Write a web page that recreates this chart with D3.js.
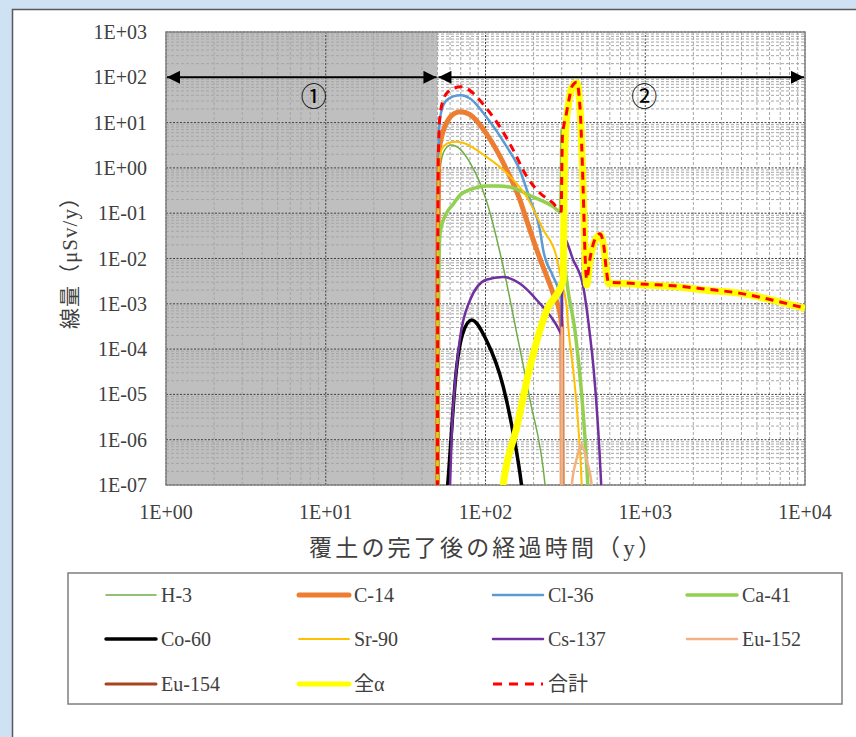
<!DOCTYPE html>
<html>
<head>
<meta charset="utf-8">
<script src="https://cdn.jsdelivr.net/npm/d3@7"></script>
<style>
  body { margin: 0; background: #cfe2f3; }
  svg { display: block; }
</style>
</head>
<body>
<svg id="chart"></svg>
<script>
// axis ticks
const yearTicks = [1, 10, 100, 1000, 10000];
const doseTicks = [1e-7, 1e-6, 1e-5, 1e-4, 1e-3, 1e-2, 1e-1, 1, 10, 100, 1000];
const coverEnd = 50;          // end of period ①
const periodArrowLevel = 100; // arrows drawn at 1E+02

// [years, μSv/y]
const h3 = [[50,1e-8],[50.3,0.01],[51,0.5],[53,1.5],[56,2.6],[61,3.2],[70,2.5],[80,1.3],[101,0.195],[129,0.0066],[157,2.2e-4],[190,7.6e-6],[236,1e-7],[250,1e-8]];
const c14 = [[50,1e-8],[50.3,0.01],[51,2],[54,6],[58,11],[64,16],[70,17.4],[80,15],[101,5.8],[136,0.9],[164,0.2],[181,0.07],[210,0.015],[265,0.0017],[293,6e-4],[300,3e-4],[303,1e-8]];
const cl36 = [[50,1e-8],[50.3,0.01],[51,4],[52,13],[56,29],[63,38],[70,40],[80,34],[101,13.5],[136,2.9],[164,0.9],[190,0.2],[219,0.043],[230,0.015],[265,0.004],[293,0.0015],[300,8e-4],[303,1e-8]];
const ca41 = [[50,1e-8],[50.3,1e-4],[51,0.005],[52,0.037],[57,0.1],[62,0.15],[70,0.26],[80,0.33],[101,0.4],[120,0.4],[149,0.36],[198,0.23],[265,0.14],[293,0.108],[298,0.5],[301,7],[303,0.5],[306,0.02],[324,0.0028],[363,2.6e-4],[400,1e-5],[437,1e-7],[450,1e-8]];
const co60 = [[55,1e-8],[58,1e-7],[66,4e-5],[72,2.2e-4],[82,4.4e-4],[101,1.6e-4],[129,1.5e-5],[149,1.4e-6],[168,1e-7],[180,1e-8]];
const sr90 = [[50,1e-8],[50.3,0.01],[51,1],[53,2.5],[57,3.4],[64,3.8],[72,3.6],[101,1.77],[136,0.76],[181,0.23],[230,0.043],[278,0.011],[300,0.003],[324,7e-4],[330,3e-4],[360,2e-5],[400,1e-7],[410,1e-8]];
const cs137 = [[57,1e-8],[60,1e-7],[61.5,1.4e-6],[64.4,1.7e-5],[69,1.6e-4],[80,1.2e-3],[101,3.4e-3],[129,3.9e-3],[164,2.8e-3],[210,1.2e-3],[293,2.4e-4],[300,2e-4],[303,0.01],[306,0.03],[354,0.0093],[409,0.0024],[451,2e-4],[474,4e-5],[530,1e-7],[545,1e-8]];
const eu152 = [[299,1e-8],[300,3e-4],[302,1e-8],[340,1e-8],[347,1e-7],[370,3.5e-7],[400,7.6e-7],[430,3.5e-7],[462,1e-7],[470,1e-8]];
const eu154 = [[299,1e-9],[300,5e-8],[302,1e-9]];
const alpha = [[120,1e-8],[129,1e-7],[157,1.9e-6],[190,4.1e-5],[242,7.3e-4],[307,3.4e-3],[309,0.05],[311,0.6],[314,3],[320,10],[330,25],[349,62],[372,76],[391,19],[409,0.28],[420,0.0093],[430,0.0026],[451,0.0093],[487,0.026],[521,0.033],[550,0.018],[573,0.0047],[588,0.0028],[730,0.0028],[1020,0.0026],[1500,0.0024],[2426,0.002],[3950,0.0017],[6300,0.0012],[10000,0.00079]];
const total = [[50,1e-8],[50.3,0.01],[50.8,3],[52,15],[55,35],[59,50],[64,58],[70,62],[76,57],[84,44],[101,21],[123,8.1],[149,2.5],[181,0.65],[219,0.28],[265,0.166],[298,0.11],[300,0.6],[303,5],[308,8],[316,12],[330,27],[349,64],[372,78],[391,20],[409,0.3],[420,0.012],[430,0.0035],[451,0.01],[487,0.028],[521,0.035],[550,0.019],[573,0.005],[588,0.003],[730,0.0029],[1020,0.0027],[1500,0.0025],[2426,0.0021],[3950,0.0017],[6300,0.0012],[10000,0.0008]];

const series = [
  { name: "H-3",    data: h3,    color: "#70ad47", width: 1.5 },
  { name: "C-14",   data: c14,   color: "#ed7d31", width: 5 },
  { name: "Cl-36",  data: cl36,  color: "#5b9bd5", width: 2.5 },
  { name: "Ca-41",  data: ca41,  color: "#92d050", width: 3.5 },
  { name: "Co-60",  data: co60,  color: "#000000", width: 3.5 },
  { name: "Sr-90",  data: sr90,  color: "#ffc000", width: 2 },
  { name: "Cs-137", data: cs137, color: "#7030a0", width: 2.5 },
  { name: "Eu-152", data: eu152, color: "#f4b183", width: 2.5 },
  { name: "Eu-154", data: eu154, color: "#a9431e", width: 3 },
  { name: "全α",    data: alpha, color: "#ffff00", width: 7 },
  { name: "合計",   data: total, color: "#ff0000", width: 3, dash: "8,6" }
];

const width = 856, height = 737;
const m = { left: 166, right: 51, top: 32, bottom: 252 };

const svg = d3.select("#chart")
    .attr("width", width)
    .attr("height", height);

const serif = "Liberation Serif, DejaVu Serif, Noto Sans CJK JP, serif";
const textColor = "#404040";

// white panel
svg.append("rect")
    .attr("x", 12.5).attr("y", 9.5)
    .attr("width", width).attr("height", height)
    .attr("fill", "#fff")
    .attr("stroke", "#595959").attr("stroke-width", 1.5);

const x = d3.scaleLog().domain([1, 10000]).range([m.left, width - m.right]);
const y = d3.scaleLog().domain([1e-7, 1e3]).range([height - m.bottom, m.top]);

const pw = x.range()[1] - x.range()[0];
const ph = y.range()[0] - y.range()[1];

// shaded period ①
svg.append("rect")
    .attr("x", x(1)).attr("y", y(1e3))
    .attr("width", x(coverEnd) - x(1)).attr("height", ph)
    .attr("fill", "#bfbfbf");

// grid
const minorX = [], minorY = [];
yearTicks.slice(0, -1).forEach(t => { for (let k = 2; k <= 9; k++) minorX.push(t * k); });
doseTicks.slice(0, -1).forEach(t => { for (let k = 2; k <= 9; k++) minorY.push(t * k); });

const grid = svg.append("g");
grid.selectAll(".mx").data(minorX).join("line")
    .attr("x1", d => x(d)).attr("x2", d => x(d))
    .attr("y1", y.range()[0]).attr("y2", y.range()[1])
    .attr("stroke", "#a6a6a6").attr("stroke-dasharray", "3,2");
grid.selectAll(".my").data(minorY).join("line")
    .attr("y1", d => y(d)).attr("y2", d => y(d))
    .attr("x1", x.range()[0]).attr("x2", x.range()[1])
    .attr("stroke", "#a6a6a6").attr("stroke-dasharray", "3,2");
grid.selectAll(".Mx").data(yearTicks).join("line")
    .attr("x1", d => x(d)).attr("x2", d => x(d))
    .attr("y1", y.range()[0]).attr("y2", y.range()[1])
    .attr("stroke", "#404040").attr("stroke-dasharray", "2,1.5");
grid.selectAll(".My").data(doseTicks).join("line")
    .attr("y1", d => y(d)).attr("y2", d => y(d))
    .attr("x1", x.range()[0]).attr("x2", x.range()[1])
    .attr("stroke", "#404040").attr("stroke-dasharray", "2,1.5");

// plot border
svg.append("rect")
    .attr("x", x.range()[0]).attr("y", y.range()[1])
    .attr("width", pw).attr("height", ph)
    .attr("fill", "none").attr("stroke", "#868686").attr("stroke-width", 1.5);

// tick labels
const expLabel = d => {
  const e = Math.round(Math.log10(d));
  return "1E" + (e < 0 ? "-" : "+") + String(Math.abs(e)).padStart(2, "0");
};
svg.append("g").selectAll("text").data(doseTicks).join("text")
    .attr("x", x.range()[0] - 19).attr("y", d => y(d))
    .attr("dy", "0.35em").attr("text-anchor", "end")
    .attr("font-family", serif).attr("font-size", 20).attr("fill", textColor)
    .text(expLabel);
svg.append("g").selectAll("text").data(yearTicks).join("text")
    .attr("x", d => x(d)).attr("y", y.range()[0] + 27)
    .attr("dy", "0.35em").attr("text-anchor", "middle")
    .attr("font-family", serif).attr("font-size", 20).attr("fill", textColor)
    .text(expLabel);

// axis titles
svg.append("text")
    .attr("x", 485).attr("y", 556)
    .attr("text-anchor", "middle")
    .attr("textLength", 352).attr("lengthAdjust", "spacing")
    .attr("font-family", serif).attr("font-size", 23).attr("fill", textColor)
    .text("覆土の完了後の経過時間（y）");
svg.append("text")
    .attr("transform", "translate(77,258) rotate(-90)")
    .attr("text-anchor", "middle")
    .attr("textLength", 142).attr("lengthAdjust", "spacing")
    .attr("font-family", serif).attr("font-size", 21).attr("fill", textColor)
    .text("線量（μSv/y）");

// curves
svg.append("clipPath").attr("id", "plot-clip")
  .append("rect")
    .attr("x", x.range()[0]).attr("y", y.range()[1])
    .attr("width", pw).attr("height", ph);

const line = d3.line()
    .x(d => x(d[0]))
    .y(d => y(d[1]))
    .curve(d3.curveMonotoneX);

svg.append("g").attr("clip-path", "url(#plot-clip)")
  .selectAll("path").data(series).join("path")
    .attr("d", d => line(d.data))
    .attr("fill", "none")
    .attr("stroke", d => d.color)
    .attr("stroke-width", d => d.width)
    .attr("stroke-dasharray", d => d.dash || null)
    .attr("stroke-linejoin", "round");

// period arrows
const defs = svg.append("defs");
defs.append("marker").attr("id", "head")
    .attr("viewBox", "0 0 10 10").attr("refX", 10).attr("refY", 5)
    .attr("markerUnits", "userSpaceOnUse")
    .attr("markerWidth", 14).attr("markerHeight", 13)
    .attr("orient", "auto-start-reverse")
  .append("path").attr("d", "M0,0L10,5L0,10Z").attr("fill", "#000");

const periods = [[1, coverEnd, "①"], [coverEnd, 10000, "②"]];
svg.append("g").selectAll("line").data(periods).join("line")
    .attr("x1", d => x(d[0]) + 1).attr("x2", d => x(d[1]) - 1)
    .attr("y1", y(periodArrowLevel)).attr("y2", y(periodArrowLevel))
    .attr("stroke", "#000").attr("stroke-width", 2)
    .attr("marker-start", "url(#head)").attr("marker-end", "url(#head)");
svg.append("g").selectAll("text").data(periods).join("text")
    .attr("x", d => x(Math.sqrt(d[0] * d[1])) + (d[0] === 1 ? 12 : 23))
    .attr("y", y(periodArrowLevel) + 29)
    .attr("text-anchor", "middle")
    .attr("font-family", "Noto Sans CJK JP, sans-serif").attr("font-size", 26)
    .attr("fill", "#000")
    .text(d => d[2]);

// legend
const legend = svg.append("g");
legend.append("rect")
    .attr("x", 68).attr("y", 573).attr("width", 774).attr("height", 131)
    .attr("fill", "#fff").attr("stroke", "#7f7f7f").attr("stroke-width", 1.5);

const colX = [106, 299, 493, 687], rowY = [595, 639, 684];
const item = legend.selectAll("g.item").data(series).join("g")
    .attr("transform", (d, i) => `translate(${colX[i % 4]},${rowY[Math.floor(i / 4)]})`);
item.append("line")
    .attr("x1", 0).attr("x2", 50)
    .attr("stroke", d => d.color)
    .attr("stroke-width", d => Math.min(d.width, 5))
    .attr("stroke-linecap", d => d.dash ? "butt" : "round")
    .attr("stroke-dasharray", d => d.dash ? "9,7" : null);
item.append("text")
    .attr("x", 55).attr("dy", "0.35em")
    .attr("font-family", serif).attr("font-size", 20).attr("fill", textColor)
    .text(d => d.name);
</script>
</body>
</html>
